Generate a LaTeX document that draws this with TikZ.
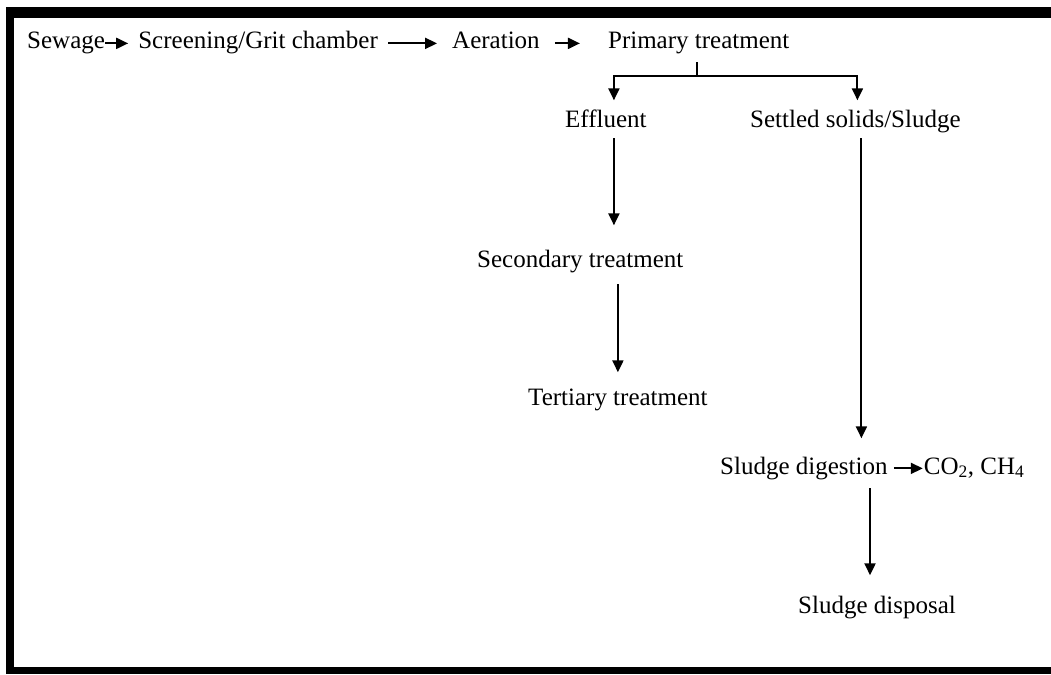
\documentclass[tikz,border=0pt]{standalone}
\usepackage{fontspec}
\setmainfont{Liberation Serif}
\usetikzlibrary{positioning,arrows.meta}
\tikzstyle{stage}=[
	inner sep=0pt,
	text height=17.5pt,
	text depth=6.25pt,
	font=\fontsize{25}{30}\selectfont
]
\tikzstyle{link} = [draw,line width=2pt]
\tikzstyle{flow} = [link,-{Triangle[length=12pt,width=11pt]}]
\tikzstyle{frame} = [fill=black]

\begin{document}
\begin{tikzpicture}[x=1pt,y=-1pt]
			
			\useasboundingbox (0,0) rectangle (1051,674);
			\fill[frame] (6,7) rectangle (1051,18);
			\fill[frame] (6,7) rectangle (14,674);
			\fill[frame] (6,667) rectangle (1051,674);
			
			\node[stage,anchor=base west]	(sew) at (27,49) {Sewage};
			\node[stage]	(scr) [right=33pt of sew] {Screening/Grit chamber};
			\node[stage]	(aer) [right=74pt of scr] {Aeration};
			\node[stage]	(prim) [right=68pt of aer] {Primary treatment};
			\coordinate	(split) at (697,76);
			
			\node[stage,anchor=base west]	(effl) at (565,128) {Effluent};
			\node[stage,anchor=base west]	(sett) at (750,128) {Settled solids/Sludge};
			\node[stage,anchor=base west]	(sec) at (477,267) {Secondary treatment};
			\node[stage,anchor=base west]	(ter) at (528,405) {Tertiary treatment};
			\node[stage,anchor=base west]	(dig) at (720,474) {Sludge digestion};
			\node[stage]	(gas) [right=36pt of dig] {CO\textsubscript{2}, CH\textsubscript{4}};
			\node[stage,anchor=base west]	(disp) at (798,613) {Sludge disposal};
			
			\draw[flow,shorten >=10pt] (sew) -- (scr);
			\draw[flow,shorten <=10pt,shorten >=15pt] (scr) -- (aer);
			\draw[flow,shorten <=15pt,shorten >=28pt] (aer) -- (prim);
			\draw[link,shorten <=7pt] (prim.south -| split) -- (split);
			\draw[flow,shorten >=10pt] (split) -| ([xshift=8pt]effl.north);
			\draw[flow,shorten >=10pt] (split) -| ([xshift=2pt]sett.north);
			
			\draw[flow,shorten <=4pt,shorten >=24pt] ([xshift=8pt]effl.south) -- ([xshift=8pt]effl.south |- sec.north);
			\draw[flow,shorten <=11pt,shorten >=15pt] (sec.south -| ter.north) -- (ter.north);
			\draw[flow,shorten <=4pt,shorten >=18pt] ([xshift=6pt]sett.south) -- ([xshift=6pt]sett.south |- dig.north);
			\draw[flow,shorten <=6pt,shorten >=1pt] (dig) -- (gas);
			\draw[flow,shorten <=8pt,shorten >=20pt] ([xshift=-7pt]disp.north |- dig.south) -- ([xshift=-7pt]disp.north);
			
\end{tikzpicture}
\end{document}
